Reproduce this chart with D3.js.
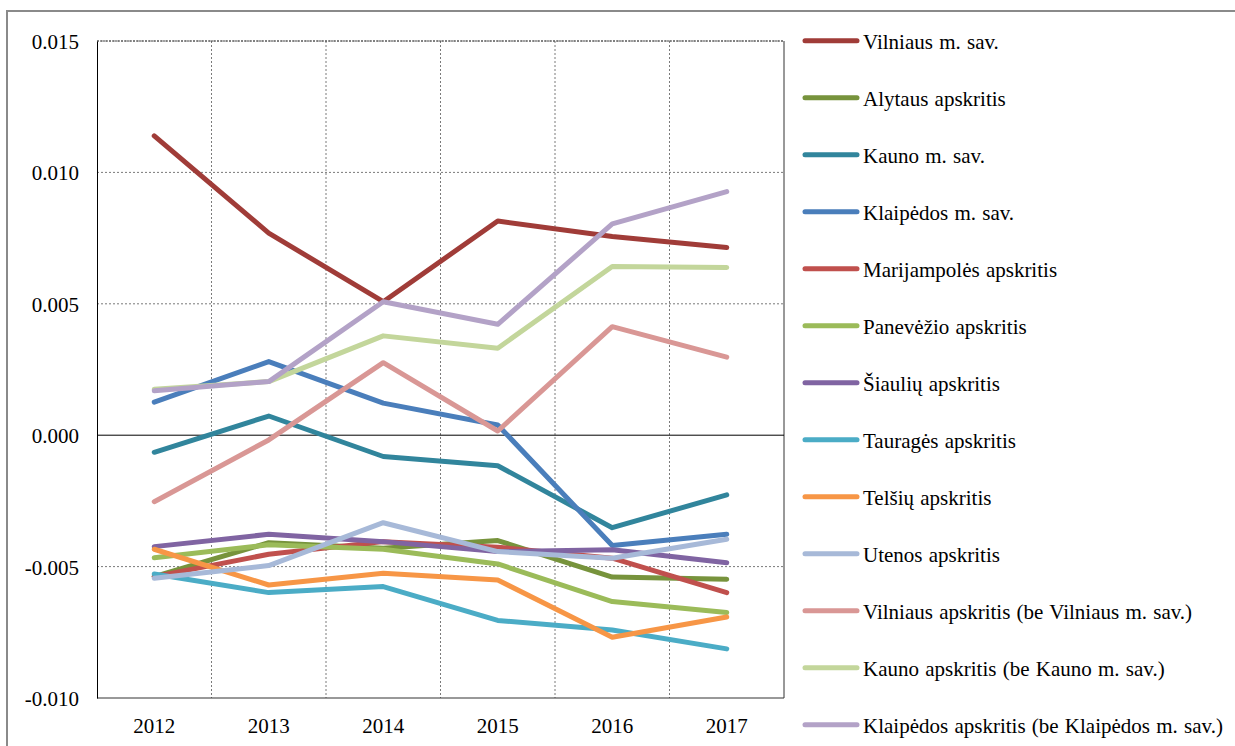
<!DOCTYPE html>
<html>
<head>
<meta charset="utf-8">
<script src="https://cdn.jsdelivr.net/npm/d3@7/dist/d3.min.js"></script>
<style>
  html, body { margin: 0; padding: 0; background: #fff; }
  svg { display: block; font-family: "Liberation Serif", "Times New Roman", serif; }
</style>
</head>
<body>
<svg id="chart" width="1235" height="746"></svg>
<script>
const years = ["2012", "2013", "2014", "2015", "2016", "2017"];
const yTicks = [0.015, 0.010, 0.005, 0.000, -0.005, -0.010];
const seriesNames = [
  "Vilniaus m. sav.",
  "Alytaus apskritis",
  "Kauno m. sav.",
  "Klaipėdos m. sav.",
  "Marijampolės apskritis",
  "Panevėžio apskritis",
  "Šiaulių apskritis",
  "Tauragės apskritis",
  "Telšių apskritis",
  "Utenos apskritis",
  "Vilniaus apskritis (be Vilniaus m. sav.)",
  "Kauno apskritis (be Kauno m. sav.)",
  "Klaipėdos apskritis (be Klaipėdos m. sav.)"
];
const seriesColors = [
  "#A03C38", "#77933C", "#31859C", "#4A7EBB", "#C0504D", "#9BBB59", "#8064A2",
  "#4BACC6", "#F79646", "#A7B9D8", "#D99795", "#C3D69B", "#B3A2C7"
];
const vilniausMSav   = [0.01139, 0.00769, 0.00508, 0.00815, 0.00756, 0.00714];
const alytaus        = [-0.00538, -0.00409, -0.00430, -0.00401, -0.00540, -0.00548];
const kaunoMSav      = [-0.00065, 0.00073, -0.00081, -0.00116, -0.00352, -0.00227];
const klaipedosMSav  = [0.00126, 0.00280, 0.00122, 0.00039, -0.00420, -0.00377];
const marijampoles   = [-0.00538, -0.00453, -0.00405, -0.00426, -0.00468, -0.00599];
const panevezio      = [-0.00466, -0.00417, -0.00434, -0.00490, -0.00633, -0.00675];
const siauliu        = [-0.00424, -0.00377, -0.00405, -0.00443, -0.00436, -0.00485];
const taurages       = [-0.00528, -0.00599, -0.00576, -0.00705, -0.00741, -0.00813];
const telsiu         = [-0.00434, -0.00570, -0.00525, -0.00551, -0.00769, -0.00692];
const utenos         = [-0.00544, -0.00496, -0.00333, -0.00443, -0.00468, -0.00396];
const vilniausApskr  = [-0.00253, -0.00018, 0.00276, 0.00016, 0.00413, 0.00297];
const kaunoApskr     = [0.00175, 0.00204, 0.00378, 0.00331, 0.00642, 0.00638];
const klaipedosApskr = [0.00169, 0.00204, 0.00508, 0.00422, 0.00804, 0.00927];

const seriesValues = [vilniausMSav, alytaus, kaunoMSav, klaipedosMSav, marijampoles, panevezio,
  siauliu, taurages, telsiu, utenos, vilniausApskr, kaunoApskr, klaipedosApskr];

const svg = d3.select("#chart");
const W = 1235, H = 746;
const plot = { left: 97, right: 784, top: 41, bottom: 698 };
const FONT = "'Liberation Serif', 'Times New Roman', serif";

// outer frame
svg.append("rect").attr("x", 7).attr("y", 11).attr("width", W + 10).attr("height", H + 10)
  .attr("fill", "none").attr("stroke", "#8a8a8a").attr("stroke-width", 2);

const x = d3.scaleBand().domain(years).range([plot.left, plot.right]).padding(0);
const y = d3.scaleLinear().domain([-0.010, 0.015]).range([plot.bottom, plot.top]);

const g = svg.append("g");

// vertical gridlines at band boundaries
years.slice(1).forEach(yr => {
  g.append("line").attr("x1", x(yr)).attr("x2", x(yr))
    .attr("y1", plot.top).attr("y2", plot.bottom)
    .attr("stroke", "#7a7a7a").attr("stroke-width", 1).attr("stroke-dasharray", "2,2");
});
// horizontal gridlines
yTicks.filter(t => t !== 0 && t !== -0.010).forEach(t => {
  g.append("line").attr("x1", plot.left).attr("x2", plot.right)
    .attr("y1", y(t)).attr("y2", y(t))
    .attr("stroke", "#7a7a7a").attr("stroke-width", 1).attr("stroke-dasharray", "2,2");
});

// plot border
g.append("line").attr("x1", plot.left).attr("x2", plot.right).attr("y1", plot.top).attr("y2", plot.top)
  .attr("stroke", "#444").attr("stroke-width", 1).attr("stroke-dasharray", "2,1");
g.append("line").attr("x1", plot.right).attr("x2", plot.right).attr("y1", plot.top).attr("y2", plot.bottom)
  .attr("stroke", "#333").attr("stroke-width", 1);
g.append("line").attr("x1", plot.left).attr("x2", plot.right).attr("y1", plot.bottom).attr("y2", plot.bottom)
  .attr("stroke", "#333").attr("stroke-width", 1);
// zero line
g.append("line").attr("x1", plot.left).attr("x2", plot.right).attr("y1", y(0)).attr("y2", y(0))
  .attr("stroke", "#000").attr("stroke-width", 1);

// y axis
const fmt = d3.format(".3f");
const yAxis = d3.axisLeft(y).tickValues(yTicks).tickSize(0).tickPadding(18)
  .tickFormat(d => fmt(d).replace("\u2212", "-"));
const ya = svg.append("g").attr("transform", `translate(${plot.left},0)`).call(yAxis)
  .attr("font-family", FONT).attr("font-size", 21);
ya.select(".domain").attr("stroke", "#000").attr("stroke-width", 1);
ya.selectAll("text").attr("fill", "#000").attr("dy", "0.36em");

// x axis labels
const xAxis = d3.axisBottom(x).tickSize(0).tickPadding(20);
const xa = svg.append("g").attr("transform", `translate(0,${plot.bottom})`).call(xAxis)
  .attr("font-family", FONT).attr("font-size", 21);
xa.select(".domain").remove();
xa.selectAll("text").attr("fill", "#000");

// lines
const line = d3.line()
  .x((d, i) => x(years[i]) + x.bandwidth() / 2)
  .y(d => y(d));

seriesValues.forEach((vals, i) => {
  svg.append("path").datum(vals).attr("d", line)
    .attr("fill", "none").attr("stroke", seriesColors[i]).attr("stroke-width", 5)
    .attr("stroke-linecap", "round").attr("stroke-linejoin", "round");
});

// legend
const leg = svg.append("g").attr("font-family", FONT).attr("font-size", 21);
seriesNames.forEach((name, i) => {
  const ly = 40.7 + i * 57;
  leg.append("line").attr("x1", 805).attr("x2", 857).attr("y1", ly).attr("y2", ly)
    .attr("stroke", seriesColors[i]).attr("stroke-width", 5).attr("stroke-linecap", "round");
  leg.append("text").attr("x", 863).attr("y", ly + 8)
    .attr("fill", "#000").attr("word-spacing", "1px")
    .text(name);
});
</script>
</body>
</html>
